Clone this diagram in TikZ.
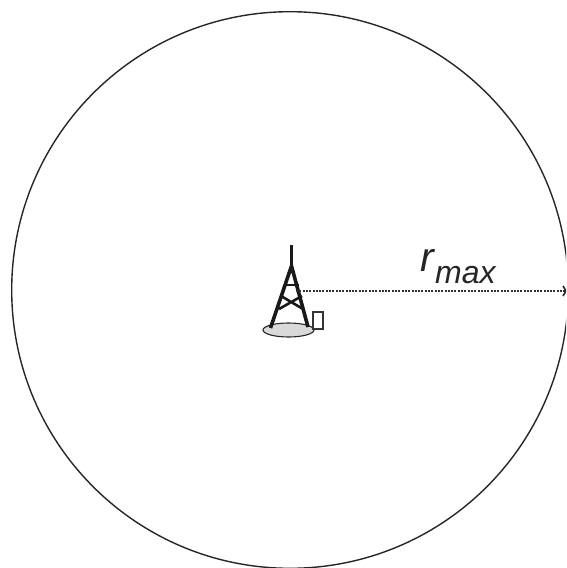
\documentclass[tikz,border=0pt]{standalone}
\usepackage{fontspec}
\setmainfont{Liberation Sans}
\usetikzlibrary{shapes.geometric}
\begin{document}
\begin{tikzpicture}[x=1pt,y=-1pt,
  towerline/.style={line width=3.6pt,black!90,line cap=butt},
  braceline/.style={line width=2.6pt,black!90},
  radiusline/.style={line width=1.5pt,dash pattern=on 2pt off 1.3pt,black!80},
  cabinetbox/.style={draw=black!80,fill=white,line width=1.1pt,minimum width=10pt,minimum height=17pt,inner sep=0pt},
  padshape/.style={draw=black!85,fill=black!15,line width=1.1pt,ellipse,minimum width=51pt,minimum height=14pt,inner sep=0pt}]
\useasboundingbox (0,0) rectangle (566,568);
\clip (0,0) rectangle (566,568);
\draw[line width=1.4pt,black!85] (290,290) circle (278.3);
\node[padshape] (base) at (288.5,330) {};
\node[cabinetbox] (cabinet) at (318,320.5) {};
\coordinate (apex) at (291.5,245);
\coordinate (neck) at (291.5,266);
\coordinate (footL) at (270.5,328);
\coordinate (footR) at (308,327);
\draw[line width=3.8pt,black!90] (apex) -- (neck);
\draw[towerline,line join=miter] (footL) -- (neck) -- (footR);
\draw[braceline] (284,285) -- (299,285);
\draw[braceline] (281,296) -- (303,309) (302,296) -- (279,309);
\coordinate (lineStart) at (296,291);
\coordinate (lineEnd) at (566,291);
\draw[radiusline] (lineStart) -- (lineEnd);
\draw[line width=1.6pt,black!85] (563,286) -- (566,291) -- (563,296);
\node[inner sep=0pt,anchor=base west,text=black!85] (rlabel) at (420,271) {\fontsize{41}{41}\selectfont\itshape r};
\node[inner sep=0pt,anchor=base west,text=black!85] (maxlabel) at (435,283) {\fontsize{32}{32}\selectfont\itshape max};
\end{tikzpicture}
\end{document}
